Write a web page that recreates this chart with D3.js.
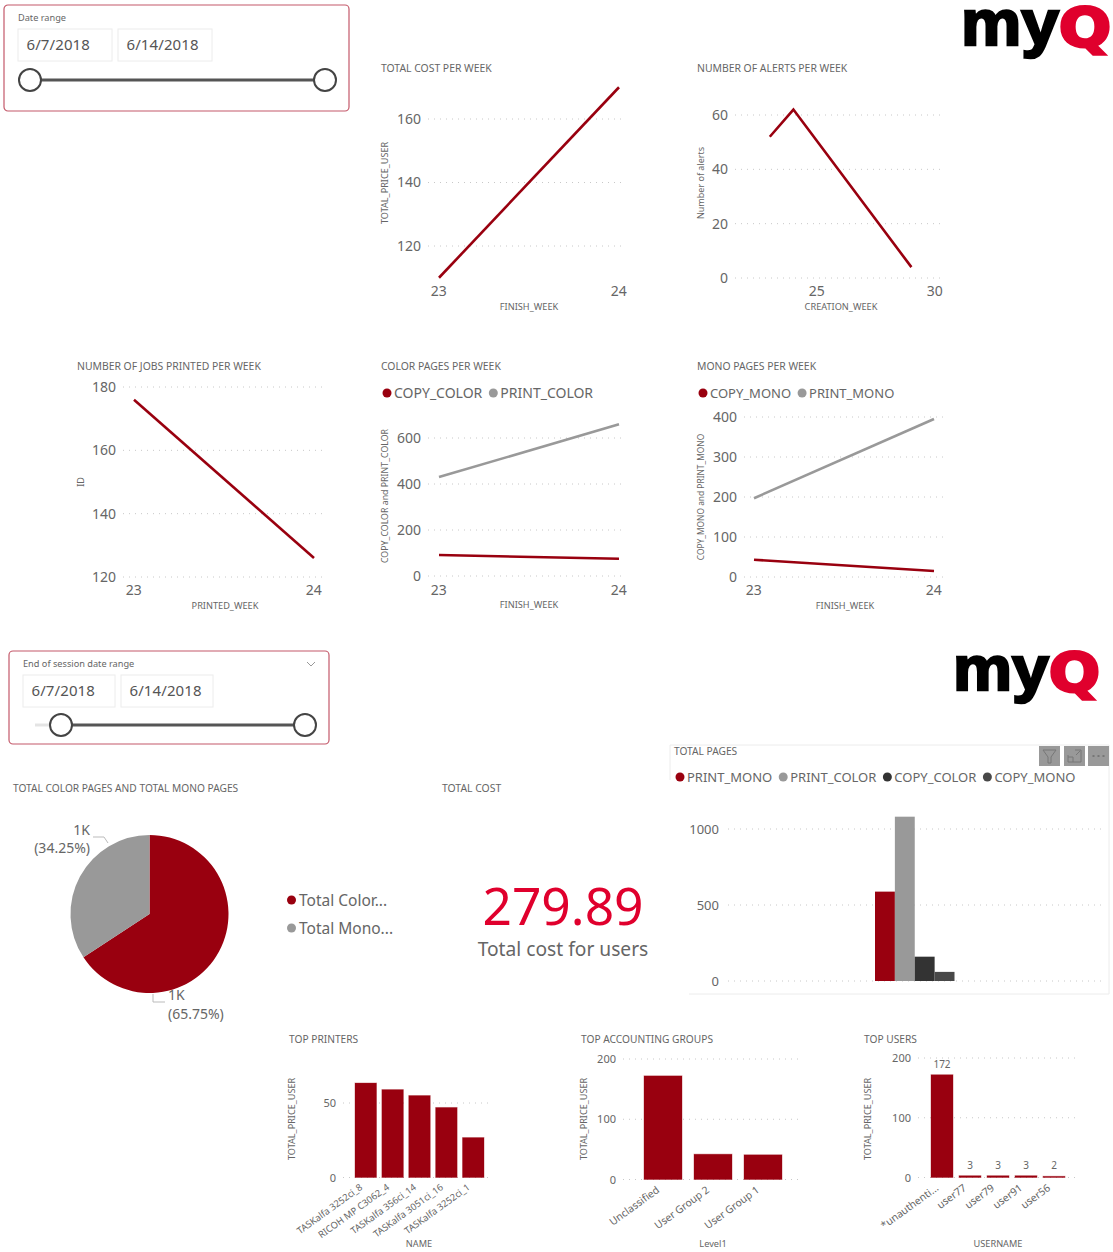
<!DOCTYPE html>
<html>
<head>
<meta charset="utf-8">
<script src="https://cdnjs.cloudflare.com/ajax/libs/d3/7.8.5/d3.min.js"></script>
<style>
html, body { margin: 0; padding: 0; background: #fff; }
svg { display: block; }
text { font-family: "Noto Sans", "DejaVu Sans", sans-serif; fill: #666; }
.grid { stroke: #c8c8c8; stroke-width: 1; stroke-dasharray: 1 5; }
</style>
</head>
<body>
<svg id="chart" width="1113" height="1252"></svg>
<script>
// line charts
var costWeeks = [23, 24];
var costValues = [110, 170];
var costTicks = [120, 140, 160];

var alertWeeks = [23, 24, 29];
var alertValues = [52, 62, 4];
var alertTicks = [0, 20, 40, 60];

var jobWeeks = [23, 24];
var jobValues = [176, 126];
var jobTicks = [120, 140, 160, 180];

var colorWeeks = [23, 24];
var copyColor = [91, 75];
var printColor = [430, 660];
var colorTicks = [0, 200, 400, 600];

var monoWeeks = [23, 24];
var copyMono = [43, 15];
var printMono = [197, 395];
var monoTicks = [0, 100, 200, 300, 400];

// pie
var pieNames = ["Total Color...", "Total Mono..."];
var pieValues = [65.75, 34.25];
var pieLabels = ["1K", "1K"];

// total pages
var pageSeries = ["PRINT_MONO", "PRINT_COLOR", "COPY_COLOR", "COPY_MONO"];
var pageValues = [588, 1081, 160, 60];
var pageTicks = [0, 500, 1000];

// top lists
var printerNames = ["TASKalfa 3252ci_8", "RICOH MP C3062_4", "TASKalfa 356ci_14", "TASKalfa 3051ci_16", "TASKalfa 3252ci_1"];
var printerValues = [63.4, 59, 55, 47, 26.8];
var printerTicks = [0, 50];

var groupNames = ["Unclassified", "User Group 2", "User Group 1"];
var groupValues = [172, 42, 41];
var groupTicks = [0, 100, 200];

var userNames = ["*unauthenti...", "user77", "user79", "user91", "user56"];
var userValues = [172, 3, 3, 3, 2];
var userTicks = [0, 100, 200];

var RED = "#99000f";
var GRAY = "#999999";
var pageColors = [RED, GRAY, "#333333", "#484848"];

var svg = d3.select("#chart");

function label(x, y, str, size, anchor, color){
	return svg.append("text")
		.attr("x", x)
		.attr("y", y)
		.attr("font-size", size)
		.attr("text-anchor", anchor || "start")
		.style("fill", color || "#666")
		.text(str);
}

function yTitle(x, y, str, size){
	svg.append("text")
		.attr("transform", "translate(" + x + "," + y + ") rotate(-90)")
		.attr("font-size", size || 9.1)
		.attr("text-anchor", "middle")
		.text(str);
}

function legend(x, y, names, colors, size){
	var cx = x;
	names.forEach(function(name, i){
		svg.append("circle").attr("cx", cx).attr("cy", y).attr("r", 4.5).attr("fill", colors[i]);
		var t = label(cx + 7, y + 5, name, size || 14);
		cx += t.node().getComputedTextLength() + 18;
	});
}

function grid(scale, ticks, x0, x1){
	svg.append("g").selectAll("line")
		.data(ticks)
		.enter()
		.append("line")
		.attr("class", "grid")
		.attr("x1", x0)
		.attr("x2", x1)
		.attr("y1", function(d){ return scale(d); })
		.attr("y2", function(d){ return scale(d); });
}

function yAxis(scale, ticks, x, size){
	var g = svg.append("g")
		.attr("transform", "translate(" + x + ",0)")
		.call(d3.axisLeft(scale).tickValues(ticks).tickSize(0).tickPadding(0).tickFormat(d3.format("d")));
	g.select(".domain").remove();
	g.selectAll("text").attr("font-size", size).style("font-family", null);
	return g;
}

function lineChart(c){
	var x = d3.scaleLinear().domain(c.xDomain).range(c.xRange);
	var y = d3.scaleLinear().domain(c.yDomain).range(c.yRange);

	if(c.title) label(c.titleX, c.titleY, c.title, 10.4);
	grid(y, c.ticks, c.gridFrom, c.gridTo);
	yAxis(y, c.ticks, c.labelRight, 14);

	var ax = svg.append("g")
		.attr("transform", "translate(0," + c.tickY + ")")
		.call(d3.axisBottom(x).tickValues(c.xTicks).tickSize(0).tickPadding(0).tickFormat(d3.format("d")));
	ax.select(".domain").remove();
	ax.selectAll("text").attr("font-size", 14).attr("dx", "-0.05em");

	c.series.forEach(function(s){
		var line = d3.line()
			.x(function(d, i){ return x(c.weeks[i]); })
			.y(function(d){ return y(d); });
		svg.append("path")
			.datum(s.values)
			.attr("fill", "none")
			.attr("stroke", s.color)
			.attr("stroke-width", 2.6)
			.attr("d", line);
	});

	label(c.xTitleX, c.xTitleY, c.xTitle, 9.2, "middle");
	yTitle(c.yTitleX, c.yTitleY, c.yTitle, c.yTitleSize);
}

function barChart(c){
	var x = d3.scaleBand().domain(c.names).range(c.xRange).paddingInner(c.inner).paddingOuter(0);
	var y = d3.scaleLinear().domain(c.yDomain).range(c.yRange);

	label(c.titleX, c.titleY, c.title, 10.2);
	grid(y, c.ticks, c.gridFrom, c.gridTo);
	yAxis(y, c.ticks, c.labelRight, 11);

	svg.append("g").selectAll("rect")
		.data(c.values)
		.enter()
		.append("rect")
		.attr("x", function(d, i){ return x(c.names[i]); })
		.attr("y", function(d){ return y(d); })
		.attr("width", x.bandwidth())
		.attr("height", function(d){ return y(0) - y(d); })
		.attr("fill", RED)
		.attr("stroke", RED)
		.attr("stroke-opacity", 0.35);

	if(c.showValues){
		svg.append("g").selectAll("text")
			.data(c.values)
			.enter()
			.append("text")
			.attr("x", function(d, i){ return x(c.names[i]) + x.bandwidth() / 2; })
			.attr("y", function(d){ return y(d) - 7; })
			.attr("text-anchor", "middle")
			.attr("font-size", 10)
			.text(function(d){ return d; });
	}

	var ax = svg.append("g")
		.attr("transform", "translate(0," + c.tickY + ")")
		.call(d3.axisBottom(x).tickSize(0).tickPadding(0));
	ax.select(".domain").remove();
	ax.selectAll("text")
		.attr("font-size", c.nameSize)
		.attr("text-anchor", "end")
		.attr("dx", "-0.7em")
		.attr("dy", "0.5em")
		.attr("transform", "rotate(-36)");

	label(c.xTitleX, c.xTitleY, c.xTitle, 9.2, "middle");
	yTitle(c.yTitleX, c.yTitleY, c.yTitle);
}

function slicer(c){
	svg.append("rect")
		.attr("x", c.x).attr("y", c.y).attr("width", c.w).attr("height", c.h).attr("rx", 4)
		.attr("fill", "#fff").attr("stroke", "#c4596a").attr("stroke-width", 1.2);
	label(c.labelX, c.labelY, c.label, 9.2);
	c.boxes.forEach(function(b){
		svg.append("rect")
			.attr("x", b.x).attr("y", c.boxY).attr("width", b.w).attr("height", 32)
			.attr("fill", "#fff").attr("stroke", "#ececec");
		label(b.x + 8.5, c.boxY + 21, b.text, 15, "start", "#555").attr("letter-spacing", 0.1);
	});
	if(c.track){
		svg.append("line").attr("x1", c.track).attr("x2", c.from).attr("y1", c.sliderY).attr("y2", c.sliderY)
			.attr("stroke", "#e4e4e4").attr("stroke-width", 3);
	}
	svg.append("line").attr("x1", c.from).attr("x2", c.to).attr("y1", c.sliderY).attr("y2", c.sliderY)
		.attr("stroke", "#555").attr("stroke-width", 3);
	[c.from, c.to].forEach(function(cx){
		svg.append("circle").attr("cx", cx).attr("cy", c.sliderY).attr("r", 11)
			.attr("fill", "#fff").attr("stroke", "#444").attr("stroke-width", 2);
	});
}

function logo(x, y, h){
	var s = h / 48;
	var g = svg.append("g").attr("transform", "translate(" + x + "," + y + ") scale(" + s + ")");
	g.append("text")
		.attr("x", 0).attr("y", 36)
		.attr("font-size", 64)
		.attr("font-weight", 700)
		.attr("textLength", 98)
		.attr("lengthAdjust", "spacingAndGlyphs")
		.style("font-family", "'Liberation Sans'")
		.style("fill", "#000")
		.style("stroke", "#000")
		.style("stroke-width", 2.5)
		.text("my");
	g.append("text")
		.attr("x", 98).attr("y", 37)
		.attr("font-size", 54)
		.attr("font-weight", 700)
		.attr("textLength", 52)
		.attr("lengthAdjust", "spacingAndGlyphs")
		.style("font-family", "'DejaVu Sans'")
		.style("fill", "#e0002d")
		.style("stroke", "#e0002d")
		.style("stroke-width", 3)
		.text("Q");
}

// top slicer and logo
slicer({x: 4, y: 5, w: 345, h: 106, label: "Date range", labelX: 18, labelY: 21, boxY: 29,
	boxes: [{x: 18, w: 94, text: "6/7/2018"}, {x: 118, w: 94, text: "6/14/2018"}],
	sliderY: 80, from: 30, to: 325});
logo(961, 9, 48);

lineChart({title: "TOTAL COST PER WEEK", titleX: 381, titleY: 72,
	weeks: costWeeks, series: [{values: costValues, color: RED}],
	xDomain: [23, 24], xRange: [439, 619], xTicks: costWeeks, tickY: 286,
	yDomain: [120, 160], yRange: [246, 119], ticks: costTicks, labelRight: 421, gridFrom: 428, gridTo: 626,
	xTitle: "FINISH_WEEK", xTitleX: 529, xTitleY: 310, yTitle: "TOTAL_PRICE_USER", yTitleX: 388, yTitleY: 183});

lineChart({title: "NUMBER OF ALERTS PER WEEK", titleX: 697, titleY: 72,
	weeks: alertWeeks, series: [{values: alertValues, color: RED}],
	xDomain: [25, 30], xRange: [817, 935], xTicks: [25, 30], tickY: 286,
	yDomain: [0, 60], yRange: [278, 115], ticks: alertTicks, labelRight: 728, gridFrom: 735, gridTo: 942,
	xTitle: "CREATION_WEEK", xTitleX: 841, xTitleY: 310, yTitle: "Number of alerts", yTitleX: 704, yTitleY: 183, yTitleSize: 9});

lineChart({title: "NUMBER OF JOBS PRINTED PER WEEK", titleX: 77, titleY: 370,
	weeks: jobWeeks, series: [{values: jobValues, color: RED}],
	xDomain: [23, 24], xRange: [134, 314], xTicks: jobWeeks, tickY: 585,
	yDomain: [120, 180], yRange: [577, 387], ticks: jobTicks, labelRight: 116, gridFrom: 123, gridTo: 325,
	xTitle: "PRINTED_WEEK", xTitleX: 225, xTitleY: 609, yTitle: "ID", yTitleX: 84, yTitleY: 482});

legend(387, 393, ["COPY_COLOR", "PRINT_COLOR"], [RED, GRAY], 14);
lineChart({title: "COLOR PAGES PER WEEK", titleX: 381, titleY: 370,
	weeks: colorWeeks, series: [{values: printColor, color: GRAY}, {values: copyColor, color: RED}],
	xDomain: [23, 24], xRange: [439, 619], xTicks: colorWeeks, tickY: 585,
	yDomain: [0, 600], yRange: [576, 438], ticks: colorTicks, labelRight: 421, gridFrom: 428, gridTo: 626,
	xTitle: "FINISH_WEEK", xTitleX: 529, xTitleY: 608, yTitle: "COPY_COLOR and PRINT_COLOR", yTitleX: 388, yTitleY: 496, yTitleSize: 8.8});

legend(703, 393, ["COPY_MONO", "PRINT_MONO"], [RED, GRAY], 13);
lineChart({title: "MONO PAGES PER WEEK", titleX: 697, titleY: 370,
	weeks: monoWeeks, series: [{values: printMono, color: GRAY}, {values: copyMono, color: RED}],
	xDomain: [23, 24], xRange: [754, 934], xTicks: monoWeeks, tickY: 585,
	yDomain: [0, 400], yRange: [577, 417], ticks: monoTicks, labelRight: 737, gridFrom: 744, gridTo: 944,
	xTitle: "FINISH_WEEK", xTitleX: 845, xTitleY: 609, yTitle: "COPY_MONO and PRINT_MONO", yTitleX: 704, yTitleY: 497, yTitleSize: 8.4});

// second page
slicer({x: 9, y: 651, w: 320, h: 93, label: "End of session date range", labelX: 23, labelY: 667, boxY: 675,
	boxes: [{x: 23, w: 92, text: "6/7/2018"}, {x: 121, w: 92, text: "6/14/2018"}],
	sliderY: 725, track: 35, from: 61, to: 305});
svg.append("path").attr("d", "M307 662l4 4l4 -4").attr("fill", "none").attr("stroke", "#999");
logo(953, 655, 47);

// pie
label(13, 792, "TOTAL COLOR PAGES AND TOTAL MONO PAGES", 10.2);
var pieGroup = svg.append("g").attr("transform", "translate(149.5,914)");
var arc = d3.arc().innerRadius(0).outerRadius(79);
pieGroup.selectAll("path")
	.data(d3.pie().sort(null)(pieValues))
	.enter()
	.append("path")
	.attr("d", arc)
	.attr("fill", function(d, i){ return [RED, GRAY][i]; });
svg.append("path").attr("d", "M93 837H104L108 843").attr("fill", "none").attr("stroke", "#bbb");
svg.append("path").attr("d", "M153 994V1002H165").attr("fill", "none").attr("stroke", "#bbb");
label(90, 835, pieLabels[1], 14, "end");
label(90, 853, "(" + pieValues[1].toFixed(2) + "%)", 14, "end");
label(168, 1000, pieLabels[0], 14);
label(168, 1019, "(" + pieValues[0].toFixed(2) + "%)", 14);
pieNames.forEach(function(name, i){
	svg.append("circle").attr("cx", 291.5).attr("cy", 900 + i * 28).attr("r", 4.5).attr("fill", [RED, GRAY][i]);
	label(299, 906 + i * 28, name, 15.5);
});

// total cost card
label(442, 792, "TOTAL COST", 10.4);
label(563, 925, "279.89", 51.5, "middle", "#e0002d");
label(563, 956, "Total cost for users", 19.2, "middle");

// total pages
svg.append("path").attr("d", "M670 780V745H1109V994H689").attr("fill", "none").attr("stroke", "#ececec");
label(674, 755, "TOTAL PAGES", 10.2);
[1039, 1064, 1088].forEach(function(x){
	svg.append("rect").attr("x", x).attr("y", 746).attr("width", 21).attr("height", 20).attr("fill", "#999");
});
svg.append("path").attr("d", "M1043 750H1056L1051 757V763H1048V757Z").attr("fill", "none").attr("stroke", "#777");
svg.append("path").attr("d", "M1068 755V762H1081V750H1075M1068 757H1073V762M1076 755L1080 751").attr("fill", "none").attr("stroke", "#777");
svg.append("path").attr("d", "M1092.5 756h2M1097.5 756h2M1102.5 756h2").attr("stroke", "#555");
legend(680, 777, pageSeries, pageColors, 13);

var pageX = d3.scaleBand().domain(pageSeries).range([875, 954.5]);
var pageY = d3.scaleLinear().domain([0, 1000]).range([981, 829]);
grid(pageY, pageTicks, 728, 1105);
yAxis(pageY, pageTicks, 719, 13);
svg.append("g").selectAll("rect")
	.data(pageValues)
	.enter()
	.append("rect")
	.attr("x", function(d, i){ return pageX(pageSeries[i]); })
	.attr("y", function(d){ return pageY(d); })
	.attr("width", pageX.bandwidth())
	.attr("height", function(d){ return pageY(0) - pageY(d); })
	.attr("fill", function(d, i){ return pageColors[i]; });

// bottom row
barChart({title: "TOP PRINTERS", titleX: 289, titleY: 1043, nameSize: 9.4,
	names: printerNames, values: printerValues, xRange: [355, 484], inner: 0.2,
	yDomain: [0, 50], yRange: [1177.5, 1103], ticks: printerTicks, labelRight: 336, gridFrom: 343, gridTo: 492, tickY: 1181,
	xTitle: "NAME", xTitleX: 419, xTitleY: 1247, yTitle: "TOTAL_PRICE_USER", yTitleX: 295, yTitleY: 1119});

barChart({title: "TOP ACCOUNTING GROUPS", titleX: 581, titleY: 1043, nameSize: 10.4,
	names: groupNames, values: groupValues, xRange: [644, 782], inner: 0.24,
	yDomain: [0, 200], yRange: [1179.5, 1059], ticks: groupTicks, labelRight: 616, gridFrom: 623, gridTo: 803, tickY: 1183,
	xTitle: "Level1", xTitleX: 713, xTitleY: 1247, yTitle: "TOTAL_PRICE_USER", yTitleX: 587, yTitleY: 1119});

barChart({title: "TOP USERS", titleX: 864, titleY: 1043, nameSize: 10.4,
	names: userNames, values: userValues, xRange: [931, 1065], inner: 0.214, showValues: true,
	yDomain: [0, 200], yRange: [1177.5, 1058], ticks: userTicks, labelRight: 911, gridFrom: 918, gridTo: 1078, tickY: 1181,
	xTitle: "USERNAME", xTitleX: 998, xTitleY: 1247, yTitle: "TOTAL_PRICE_USER", yTitleX: 871, yTitleY: 1119});
</script>
</body>
</html>
